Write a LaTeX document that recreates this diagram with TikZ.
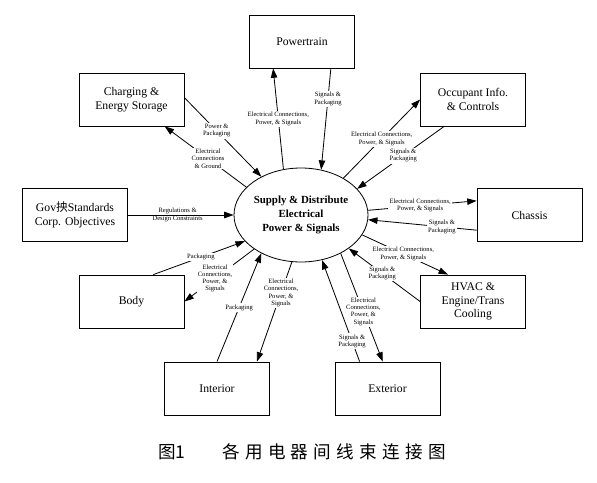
\documentclass[tikz,border=0pt]{standalone}
\usepackage{fontspec}
\setmainfont{Liberation Serif}
\newfontfamily\cjk{Noto Sans CJK SC}
\newfontfamily\cjkcap[LetterSpace=30]{Noto Sans CJK SC}
\usetikzlibrary{arrows.meta,shapes.geometric}

\begin{document}
\begin{tikzpicture}[x=0.03cm,y=-0.03cm,line width=0.7pt,
box/.style={draw,minimum width=3.15cm,minimum height=1.59cm,align=center,font=\fontsize{10}{11.5}\selectfont},
hub/.style={draw,ellipse,minimum width=4.02cm,minimum height=2.82cm,inner sep=0pt,align=center,font=\bfseries\fontsize{9.3}{11.7}\selectfont},
lbl/.style={fill=white,inner sep=1pt,align=center,font=\fontsize{5.6}{6.2}\selectfont},
>={Triangle[length=8pt,width=5.5pt]}]
\useasboundingbox (0,0) rectangle (597,482);
\node[hub] (hub) at (301,215) {Supply \& Distribute\\Electrical\\Power \& Signals};
\node[box] (powertrain) at (302,41.5) {Powertrain};
\node[box] (charging) at (131.5,99.5) {Charging \&\\Energy Storage};
\node[box] (occupant) at (473,99.5) {Occupant Info.\\\& Controls};
\node[box] (gov) at (75,215) {Gov{\cjk 抰}Standards\\Corp. Objectives};
\node[box] (chassis) at (529.5,215) {Chassis};
\node[box] (body) at (131.5,301.5) {Body};
\node[box] (hvac) at (473,301.5) {HVAC \&\\Engine/Trans\\Cooling};
\node[box] (interior) at (217,388.5) {Interior};
\node[box] (exterior) at (387.5,388.5) {Exterior};
\draw[->] (hub.111) -- node[lbl] {Electrical Connections,\\Power, \& Signals} (powertrain.223);
\draw[->] (powertrain.317) -- node[lbl,pos=0.3] {Signals \&\\Packaging} (hub.66);
\draw[->] (hub.153) -- node[lbl,pos=0.47] {Electrical\\Connections\\\& Ground} (charging.321);
\draw[->] (charging.2) -- node[lbl,pos=0.42] {Power \&\\Packaging} (hub.136);
\draw[->] (hub.41) -- node[lbl] {Electrical Connections,\\Power, \& Signals} (occupant.west);
\draw[->] (occupant.223) -- node[lbl,pos=0.47] {Signals \&\\Packaging} (hub.25);
\draw[->] (gov.east) -- node[lbl,fill=none,pos=0.47] {Regulations \&\\Design Constraints} (hub.west);
\draw[->] (hub.4) -- node[lbl,pos=0.48] {Electrical Connections,\\Power, \& Signals} (chassis.165);
\draw[->] (chassis.196) -- node[lbl,pos=0.32] {Signals \&\\Packaging} (hub.356);
\draw[->] (hub.342) -- node[lbl,pos=0.48] {Electrical Connections,\\Power, \& Signals} (hvac.133);
\draw[->] (hvac.west) -- node[lbl,pos=0.53] {Signals \&\\Packaging} (hub.325);
\draw[->] (hub.316) -- node[lbl,pos=0.54] {Electrical\\Connections,\\Power, \&\\Signals} (exterior.100);
\draw[->] (exterior.136) -- node[lbl,pos=0.2] {Signals \&\\Packaging} (hub.295);
\draw[->] (hub.259) -- node[lbl,pos=0.31] {Electrical\\Connections,\\Power, \&\\Signals} (interior.34);
\draw[->] (interior.north) -- node[lbl] {Packaging} (hub.224);
\draw[->] (hub.216) -- node[lbl,pos=0.56] {Electrical\\Connections,\\Power, \&\\Signals} (body.east);
\draw[->] (body.51) -- node[lbl,pos=0.52] {Packaging} (hub.205);
\node[font=\cjk\fontsize{15}{15}\selectfont] (fignum) at (172,452) {图1};
\node[font=\cjkcap\fontsize{15}{15}\selectfont] (caption) at (334,452) {各用电器间线束连接图};
\end{tikzpicture}
\end{document}
